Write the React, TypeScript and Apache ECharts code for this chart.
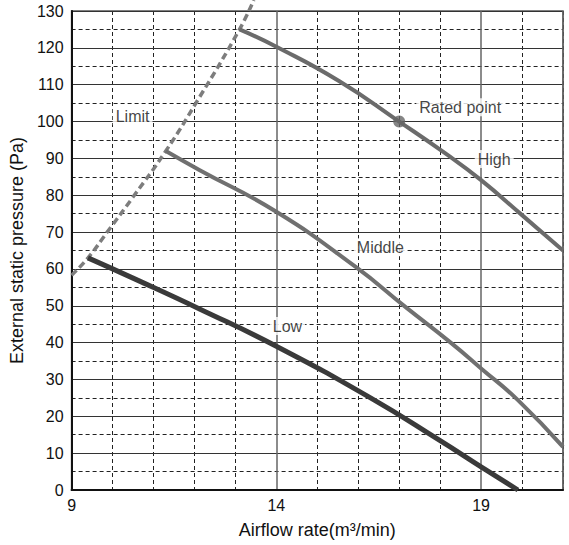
import { useEffect, useRef } from "react";
import * as echarts from "echarts";

// ---- data ----
const xMin = 9;
const xMax = 21;
const yMin = 0;
const yMax = 130;

const limitCurve: number[][] = [
  [9, 58.3], [9.4, 63], [9.87, 70], [10.5, 79.5], [11.3, 92],
  [12.08, 105.8], [13.1, 125], [13.45, 133],
];
const highCurve: number[][] = [
  [13.1, 125], [14, 120.3], [15.53, 111.0], [17, 100], [18.12, 91.4],
  [19, 84.1], [20, 74.6], [21, 65],
];
const middleCurve: number[][] = [
  [11.3, 92], [12.13, 86.8], [14, 75.5], [15.93, 60.6], [17.15, 49.7],
  [18.28, 39.8], [19, 33], [19.9, 24.4], [21, 11.7],
];
const lowCurve: number[][] = [
  [9.4, 63], [10.5, 57.5], [12.15, 49], [14, 39], [16.3, 25],
  [18, 13.4], [19, 6.3], [19.9, 0],
];
const ratedPoint: number[][] = [[17, 100]];

const annotationNames = ["Limit", "Rated point", "High", "Middle", "Low"];
const annotationPositions: number[][] = [
  [10.49, 101.5], [18.49, 103.9], [19.32, 89.8], [16.54, 65.9], [14.27, 44.5],
];

const xAxisName = "Airflow rate(m³/min)";
const yAxisName = "External static pressure (Pa)";

const FONT = "Arial, 'Liberation Sans', sans-serif";

export default function App() {
  const ref = useRef<HTMLDivElement>(null);

  useEffect(() => {
    if (!ref.current) return;
    const chart = echarts.init(ref.current, null, { renderer: "svg" });

    const dash = [4, 3];
    const dark = "#222";

    const option: any = {
      animation: false,
      backgroundColor: "#fff",
      textStyle: { fontFamily: FONT },
      grid: {
        left: 71,
        right: 6,
        top: 11,
        bottom: 55,
        show: true,
        borderColor: "#555",
        borderWidth: 1.5,
        backgroundColor: "transparent",
      },
      xAxis: [
        {
          type: "value",
          min: xMin,
          max: xMax,
          interval: 5,
          name: xAxisName,
          nameLocation: "middle",
          nameGap: 31,
          nameTextStyle: { fontSize: 18, color: "#111", fontFamily: FONT },
          axisLine: { show: true, lineStyle: { color: "#111", width: 2 } },
          axisTick: { show: false },
          axisLabel: {
            fontSize: 16,
            color: "#111",
            margin: 7,
            fontFamily: FONT,
            showMaxLabel: false,
            formatter: (v: number) => (v === xMax ? "" : String(v)),
          },
          splitLine: { show: true, lineStyle: { color: "#666", width: 1.5 } },
          z: 3,
        },
        {
          type: "value",
          min: xMin,
          max: xMax,
          interval: 1,
          position: "bottom",
          axisLine: { show: false },
          axisTick: { show: false },
          axisLabel: { show: false },
          splitLine: {
            show: true,
            lineStyle: {
              color: ["transparent", dark, dark, dark, dark],
              width: 1,
              type: dash,
            },
          },
        },
      ],
      yAxis: [
        {
          type: "value",
          min: yMin,
          max: yMax,
          interval: 10,
          name: yAxisName,
          nameLocation: "middle",
          nameGap: 42,
          nameTextStyle: { fontSize: 18, color: "#111", fontFamily: FONT },
          axisLine: { show: true, lineStyle: { color: "#111", width: 2 } },
          axisTick: { show: false },
          axisLabel: { fontSize: 16, color: "#111", margin: 8, fontFamily: FONT },
          splitLine: { show: true, lineStyle: { color: "#333", width: 1.2 } },
          z: 3,
        },
        {
          type: "value",
          min: yMin,
          max: yMax,
          interval: 5,
          position: "left",
          axisLine: { show: false },
          axisTick: { show: false },
          axisLabel: { show: false },
          splitLine: {
            show: true,
            lineStyle: { color: ["transparent", dark], width: 1, type: dash },
          },
        },
      ],
      series: [
        {
          name: "Limit",
          type: "line",
          data: limitCurve,
          smooth: 0.5,
          showSymbol: false,
          symbol: "none",
          clip: false,
          lineStyle: { color: "#7d7d7d", width: 3.5, type: [7, 4] },
          z: 4,
          silent: true,
        },
        {
          name: "High",
          type: "line",
          data: highCurve,
          smooth: 0.5,
          symbol: "none",
          lineStyle: { color: "#6b6b6b", width: 4 },
          z: 5,
          silent: true,
        },
        {
          name: "Middle",
          type: "line",
          data: middleCurve,
          smooth: 0.5,
          symbol: "none",
          lineStyle: { color: "#707070", width: 4 },
          z: 5,
          silent: true,
        },
        {
          name: "Low",
          type: "line",
          data: lowCurve,
          smooth: 0.5,
          symbol: "none",
          lineStyle: { color: "#3a3a3a", width: 5 },
          z: 5,
          silent: true,
        },
        {
          name: "Rated",
          type: "scatter",
          data: ratedPoint,
          symbol: "circle",
          symbolSize: 12,
          itemStyle: { color: "#666" },
          z: 6,
          silent: true,
        },
        {
          name: "Annotations",
          type: "scatter",
          symbolSize: 1,
          itemStyle: { color: "transparent" },
          data: annotationNames.map((n, i) => ({ name: n, value: annotationPositions[i] })),
          label: {
            show: true,
            position: "inside",
            formatter: "{b}",
            fontSize: 16,
            color: "#111",
            fontFamily: FONT,
            backgroundColor: "#fff",
            padding: [1, 3],
          },
          z: 7,
          silent: true,
        },
      ],
    };

    chart.setOption(option);
    return () => chart.dispose();
  }, []);

  return (
    <div
      ref={ref}
      style={{ position: "fixed", left: 0, top: 0, width: 569, height: 545 }}
    />
  );
}
